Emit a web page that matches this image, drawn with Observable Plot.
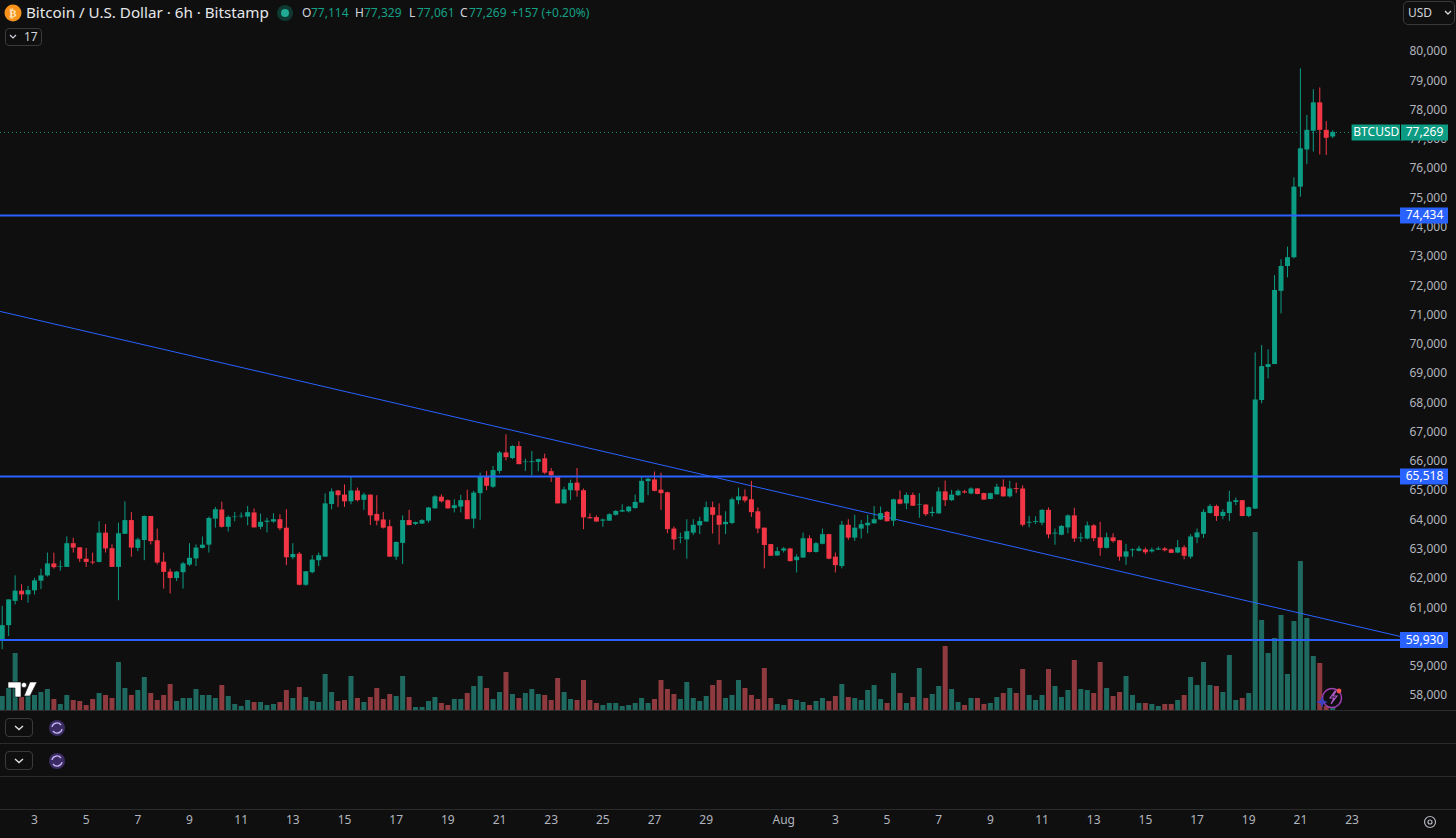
<!DOCTYPE html>
<html><head><meta charset="utf-8">
<script src="https://cdn.jsdelivr.net/npm/d3@7"></script>
<script src="https://cdn.jsdelivr.net/npm/@observablehq/plot@0.6"></script>
<style>
html,body{margin:0;padding:0;background:#0f0f0f;overflow:hidden}
#chart{position:relative;width:1456px;height:838px;font-family:"Noto Sans",sans-serif;color:#d1d4dc;overflow:hidden}
#chart>svg,#chart>div>svg{position:absolute;left:0;top:0}
.t{position:absolute;white-space:nowrap;line-height:1}
.g{color:#14a085}
.sep{position:absolute;left:0;width:1456px;height:1px;background:#2b2b2b}
.btn{position:absolute;box-sizing:border-box;border:1px solid #3a3a3a;border-radius:4px}
</style></head><body><div id="chart"></div>
<script>
const open=[59940,60420,61250,61600,61470,61610,61940,62120,62530,62420,
62410,63220,63080,62690,62590,62580,63580,63050,62410,63540,
64010,63060,63330,64150,63320,62590,62250,62030,62230,62490,
62700,63060,63170,64060,64370,63780,64110,64140,64130,64270,
63780,63950,63960,64040,63750,62740,62860,61800,62230,62640,
62760,64560,65020,64880,64650,65020,64700,64880,64220,64030,
63800,62760,63230,64010,63880,63890,63990,64410,64810,64690,
64420,64470,64690,64060,64930,65510,65150,65690,66320,66130,
66540,65990,65990,66000,66120,65680,65480,64580,65030,65290,
65030,64110,64110,63990,63990,64190,64300,64310,64420,64610,
65340,65400,65050,64960,63720,63400,63350,63580,63830,63960,
64450,64170,63870,63910,64690,64820,64720,64310,63750,63190,
62800,62970,63040,62640,62730,63390,62920,63200,63530,62760,
62440,63850,63410,63720,63830,63900,64030,64290,63990,64720,
64580,64870,64540,64540,64250,64240,64990,64690,64860,64990,
64920,65090,64930,64730,64890,65150,64820,65100,65090,63920,
63950,63920,64360,63550,63510,63760,64170,63390,63380,63830,
63420,63060,63420,63320,62760,62980,62960,63010,62940,63000,
63040,63010,62900,63080,62760,63420,63540,64250,64490,64150,
64250,64630,64690,64150,64400,68110,69240,69340,71840,72690,
72990,75400,76670,77310,78280,77340,77114];
const high=[61080,61300,62120,61820,61760,62040,62350,62900,62900,62630,
63450,63410,63080,63060,62900,63970,63870,63180,63920,64650,
64290,63410,64170,64150,63720,62900,62350,62270,62580,63220,
63180,63450,64130,64460,64640,64170,64290,64270,64490,64410,
64230,64090,64240,64210,64380,63220,62920,62270,62810,62900,
64920,65090,65040,65230,65510,65120,64950,64880,64860,64290,
64020,63280,64170,64360,63960,64040,64460,64860,64890,64720,
64720,64870,65050,65010,65630,65690,65860,66370,66940,66570,
66700,66110,66370,66110,66280,65790,65480,65150,65390,65790,
65090,64240,64170,64060,64240,64350,64550,64490,64880,65480,
65450,65670,65630,64980,63790,63580,64040,64040,64120,64640,
64640,64580,64310,64780,65120,65060,65350,64440,63750,63190,
63090,63090,63060,62840,63580,63490,63260,63720,63530,62900,
63980,64040,64190,64010,64190,64490,64470,64320,64740,65020,
64950,64950,64930,64560,64470,65130,65360,65040,65060,65040,
65130,65110,64950,64950,65250,65400,65350,65290,65200,64150,
64140,64380,64440,63720,63840,64200,64430,63580,63960,63870,
63950,63580,63560,63330,63200,63040,63130,63070,63070,63100,
63090,63040,63330,63150,63530,63720,64380,64560,64540,64380,
65010,64780,64690,64470,69740,69990,69840,72380,72920,73350,
75720,79440,77850,78730,78790,77640,77329];
const low=[59600,60050,61130,61280,61190,61470,61650,62080,62350,62280,
62410,62900,62580,62410,62500,62560,62900,62410,61270,63540,
62760,62950,62640,63180,62500,61670,61500,61930,61670,62440,
62440,63040,62900,63750,63750,63620,63970,64080,63830,63750,
63700,63590,63920,63660,62470,62670,61780,61760,62190,62440,
62760,64380,64460,64460,64550,64650,64360,63840,63830,63720,
62760,62650,62510,63830,63840,63880,63920,64400,64610,64400,
64270,64270,64040,63730,64020,65030,65110,65600,66050,66090,
65920,65690,65540,65680,65580,65310,64580,64580,64700,64810,
63700,64070,63950,63780,63980,64160,64290,64270,64400,64610,
64860,64990,64360,63560,62990,63220,62690,63500,63530,63950,
63550,63180,63530,63870,64550,64610,64120,63560,62360,62790,
62790,62900,62590,62220,62720,62900,62900,63180,62670,62220,
62360,63330,63300,63380,63560,63890,64010,63960,63810,64550,
64380,64490,64090,64150,64130,64230,64490,64660,64840,64920,
64890,64890,64700,64720,64880,64810,64780,64930,63790,63760,
63870,63830,63390,63170,63490,63560,63260,63260,63350,63290,
62790,63040,63240,62620,62480,62760,62940,62840,62900,62990,
62940,62880,62880,62670,62690,63220,63400,64230,63980,64040,
63980,64520,64140,64110,64400,68000,68850,69340,71070,72300,
72950,75060,76170,76600,76500,76480,77061];
const close=[60420,61300,61600,61470,61620,61950,62120,62530,62400,62440,
63220,63070,62690,62580,62560,63580,63040,62410,63560,64010,
63070,63350,64150,63290,62560,62240,62030,62250,62530,62720,
63070,63170,64080,64380,63780,64120,64130,64160,64280,63760,
63950,63990,64040,63730,62740,62850,61800,62260,62660,62810,
64580,64990,64860,64650,65020,64690,64880,64170,63990,63750,
62760,63260,64010,63840,63940,64010,64440,64820,64650,64410,
64520,64690,64040,64950,65510,65180,65720,66320,66160,66540,
65920,66010,66020,66090,65630,65540,64580,65060,65280,65020,
64100,64070,63960,64030,64210,64320,64350,64470,64630,65350,
65420,65010,64930,63700,63350,63420,63630,63850,63980,64450,
64190,63850,63950,64720,64820,64680,64280,63720,63160,62790,
62950,63040,62610,62760,63390,62920,63220,63530,62690,62470,
63850,63410,63750,63870,63920,64040,64250,63970,64720,64570,
64870,64500,64560,64210,64290,64990,64690,64880,65010,64950,
65090,64900,64710,64930,65150,64820,65090,65070,63850,63950,
63980,64360,63520,63580,63810,64170,63380,63420,63830,63390,
63060,63420,63290,62760,62940,63010,63040,62910,63000,63040,
62980,62890,63080,62790,63450,63590,64290,64490,64150,64290,
64640,64690,64150,64450,68130,69270,69340,71870,72690,72990,
75400,76710,77340,78280,77340,77070,77269];
const volume=[14,22,57,13,15,15,18,21,11,6,
15,10,9,5,11,17,15,12,48,22,
15,20,33,17,10,15,26,9,12,12,
21,15,15,12,25,14,6,4,10,8,
8,5,6,8,20,12,23,13,9,8,
36,18,9,10,34,12,8,13,22,11,
16,14,34,13,3,3,9,13,7,5,
11,11,17,24,34,22,11,18,38,16,
12,17,21,16,15,10,32,18,11,10,
30,10,7,5,7,7,4,5,7,12,
7,11,30,21,16,11,28,12,9,14,
25,30,12,15,30,22,15,11,42,12,
6,5,11,10,8,5,9,12,9,14,
26,13,12,10,20,25,11,7,37,17,
7,13,42,12,16,24,64,21,8,5,
12,12,6,7,13,17,22,17,41,15,
10,15,41,24,13,20,50,21,20,17,
48,22,14,18,34,15,7,7,6,4,
6,6,10,15,33,25,48,25,24,18,
55,10,12,17,178,90,57,72,95,36,
89,149,92,54,47,4,2];
const levels=[74434,65518,59930];
const lastPrice=77269;
const priceTicks=[80000,79000,78000,77000,76000,75000,74000,73000,72000,71000,70000,69000,68000,67000,66000,65000,64000,63000,62000,61000,60000,59000,58000];
const trendPrices=[71152,60050];
const dateTicks=["2024-07-03","2024-07-05","2024-07-07","2024-07-09","2024-07-11","2024-07-13","2024-07-15","2024-07-17","2024-07-19","2024-07-21","2024-07-23","2024-07-25","2024-07-27","2024-07-29","2024-08-01","2024-08-03","2024-08-05","2024-08-07","2024-08-09","2024-08-11","2024-08-13","2024-08-15","2024-08-17","2024-08-19","2024-08-21","2024-08-23"].map(d=>new Date(d+"T00:00Z"));

const GREEN="#0b9c83",RED="#f23645",BLUE="#2962ff",BG="#0f0f0f";
const SIX=6*3600e3;
const t0=Date.UTC(2024,6,1,18);
const candles=open.map((o,i)=>({date:new Date(t0+i*SIX),open:o,high:high[i],low:low[i],close:close[i],volume:volume[i]}));
const up=d=>d.close>=d.open, down=d=>d.close<d.open;
const xStart=new Date(Date.UTC(2024,6,1,16,25));
const xEnd=new Date(Date.UTC(2024,7,24,21,0));
const tagStart=new Date(Date.UTC(2024,7,23,0,0));
const tagEnd=new Date(Date.UTC(2024,7,26,17,36));
const tagMid=new Date((+xEnd+ +tagEnd)/2);
const nameMid=new Date((+xEnd+ +tagStart)/2);
const FONT='"Noto Sans",sans-serif';
const base={width:1456,height:838,marginLeft:0,marginRight:56,marginTop:0,marginBottom:32,
  style:{background:"transparent",fontFamily:FONT,fontSize:"12px",overflow:"visible"}};

const vol=Plot.plot({...base,
  x:{type:"utc",domain:[xStart,xEnd],axis:null},
  y:{domain:[0,178],range:[710,532],axis:null},
  marks:[
    Plot.ruleX(candles,{filter:up,x:"date",y:"volume",stroke:"#1f6a60",strokeWidth:5}),
    Plot.ruleX(candles,{filter:down,x:"date",y:"volume",stroke:"#8e3a3e",strokeWidth:5})
  ]});

const main=Plot.plot({...base,
  x:{type:"utc",domain:[xStart,xEnd]},
  y:{domain:[58000,80000],range:[696,52]},
  marks:[
    Plot.axisY({anchor:"right",ticks:priceTicks,tickSize:0,tickPadding:9,dy:-1,label:null,tickFormat:d3.format(","),fill:"#b2b5be",fontSize:12}),
    Plot.axisX({anchor:"bottom",ticks:dateTicks,tickSize:0,tickPadding:9,label:null,fill:"#b2b5be",fontSize:12,
      tickFormat:d=>d.getUTCMonth()===7&&d.getUTCDate()===1?"Aug":String(d.getUTCDate())}),
    Plot.ruleY([lastPrice],{stroke:GREEN,strokeDasharray:"1,3",strokeOpacity:.9}),
    Plot.line([{x:xStart,y:trendPrices[0]},{x:xEnd,y:trendPrices[1]}],{x:"x",y:"y",stroke:BLUE,strokeWidth:1}),
    Plot.ruleX(candles,{filter:up,x:"date",y1:"low",y2:"high",stroke:GREEN,strokeWidth:1}),
    Plot.ruleX(candles,{filter:down,x:"date",y1:"low",y2:"high",stroke:RED,strokeWidth:1}),
    Plot.ruleX(candles,{filter:up,x:"date",y1:"open",y2:"close",stroke:GREEN,strokeWidth:5}),
    Plot.ruleX(candles,{filter:down,x:"date",y1:"open",y2:"close",stroke:RED,strokeWidth:5}),
    Plot.ruleY(levels,{stroke:BLUE,strokeWidth:2}),
    Plot.ruleY(levels,{x1:()=>xEnd,x2:()=>tagEnd,stroke:BLUE,strokeWidth:16}),
    Plot.text(levels,{x:()=>tagMid,y:d=>d,text:d=>d3.format(",")(d),fill:"#fff",fontSize:12}),
    Plot.ruleY([lastPrice],{x1:()=>tagStart,x2:()=>tagEnd,stroke:GREEN,strokeWidth:16}),
    Plot.ruleX([xEnd],{y1:lastPrice-270,y2:lastPrice+270,stroke:BG,strokeWidth:1}),
    Plot.text([lastPrice],{x:()=>nameMid,y:d=>d,text:()=>"BTCUSD",fill:"#fff",fontSize:12}),
    Plot.text([lastPrice],{x:()=>tagMid,y:d=>d,text:d=>d3.format(",")(d),fill:"#fff",fontSize:12})
  ]});

const root=document.getElementById("chart");
root.append(vol,main);

const overlay=document.createElement("div");
overlay.innerHTML=`
<div class="sep" style="top:710px"></div><div class="sep" style="top:743px"></div>
<div class="sep" style="top:776px"></div><div class="sep" style="top:809px"></div>
<svg width="1456" height="838" style="pointer-events:none">
  <circle cx="13" cy="13" r="8.5" fill="#f7931a"/>
  <text x="13" y="17" text-anchor="middle" font-size="11" font-weight="700" fill="#ffe6c0" font-family="DejaVu Sans">₿</text>
  <circle cx="285" cy="13" r="8" fill="#0f3a33"/><circle cx="285" cy="13" r="4" fill="#22ab94"/>
  <path d="M10 35l3 3 3-3" fill="none" stroke="#d1d4dc" stroke-width="1.2"/>
  <path d="M1445 11l3 3 3-3" fill="none" stroke="#d1d4dc" stroke-width="1.4"/>
  <path d="M15 726l4 3.5 4-3.5" fill="none" stroke="#e0e0e0" stroke-width="1.4"/>
  <path d="M15 759l4 3.5 4-3.5" fill="none" stroke="#e0e0e0" stroke-width="1.4"/>
  ${[728,761].map(y=>`<circle cx="57" cy="${y}" r="8" fill="#3a2c63"/>
    <path d="M52 ${y-1}a5 5 0 0 1 9-2M62 ${y+1}a5 5 0 0 1-9 2" fill="none" stroke="#c9b4f5" stroke-width="1.3"/>`).join("")}
  <g fill="#fff" stroke="#0f0f0f" stroke-width=".6">
    <path d="M8 682H21V697H15V688H8Z"/><circle cx="24" cy="685" r="2.6"/><path d="M30 682H37L30 696H24Z"/>
  </g>
  <circle cx="1332" cy="698" r="9.5" fill="none" stroke="#a03fb5" stroke-width="1.5"/>
  <path d="M1335 691l-5 7h4l-3 6 6-8h-4l3-5z" fill="none" stroke="#b45bd0" stroke-width="1.1"/>
  <path d="M1322 696l1.6 4.4 4.4 1.6-4.4 1.6-1.6 4.4-1.6-4.4-4.4-1.6 4.4-1.6z" fill="#3f3fc4"/>
  <circle cx="1339" cy="691" r="2.4" fill="#ef5350"/>
  <circle cx="1430" cy="822" r="2" fill="none" stroke="#b2b5be" stroke-width="1.2"/>
  <circle cx="1430" cy="822" r="5.5" fill="none" stroke="#b2b5be" stroke-width="1.2"/>
</svg>
<div class="t" style="left:26px;top:5px;font-size:15.2px;color:#e6e7ea">Bitcoin / U.S. Dollar · 6h · Bitstamp</div>
<div class="t" style="left:302px;top:7px;font-size:12px">O</div><div class="t g" style="left:311px;top:7px;font-size:12px">77,114</div>
<div class="t" style="left:355px;top:7px;font-size:12px">H</div><div class="t g" style="left:364px;top:7px;font-size:12px">77,329</div>
<div class="t" style="left:409px;top:7px;font-size:12px">L</div><div class="t g" style="left:417px;top:7px;font-size:12px">77,061</div>
<div class="t" style="left:460px;top:7px;font-size:12px">C</div><div class="t g" style="left:469px;top:7px;font-size:12px">77,269</div>
<div class="t g" style="left:511px;top:7px;font-size:12px">+157 (+0.20%)</div>
<div class="btn" style="left:5px;top:28px;width:37px;height:18px"></div>
<div class="t" style="left:24px;top:31px;font-size:12px">17</div>
<div class="btn" style="left:1403px;top:1px;width:52px;height:24px;border-radius:5px"></div>
<div class="t" style="left:1408px;top:7px;font-size:12px">USD</div>
<div class="btn" style="left:5px;top:718px;width:28px;height:19px"></div>
<div class="btn" style="left:5px;top:751px;width:28px;height:19px"></div>`;
root.append(overlay);
</script></body></html>
